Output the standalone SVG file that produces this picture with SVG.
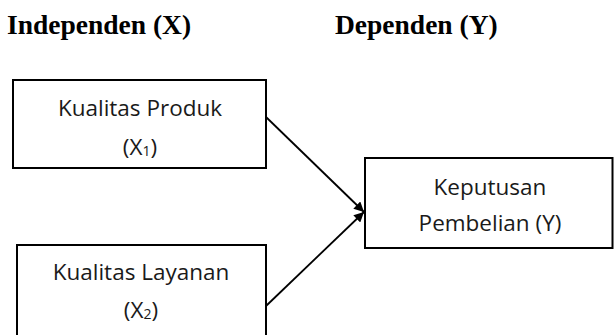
<svg xmlns="http://www.w3.org/2000/svg" width="614" height="335" viewBox="0 0 614 335">
<style>
.hdr{font-family:"Liberation Serif","Times New Roman",serif;font-weight:bold;font-size:27.5px;fill:#000}
.box{fill:#fff;stroke:#000;stroke-width:2}
.lbl{font-family:"Open Sans","Liberation Sans",sans-serif;font-size:22.5px;fill:#1a1a1a;text-anchor:middle}
.sub{font-size:14px}
.edge{stroke:#000;stroke-width:1.8;fill:none;marker-end:url(#arr)}
</style>
<defs>
<marker id="arr" viewBox="0 0 10 10" refX="10" refY="5" markerWidth="10" markerHeight="10" markerUnits="userSpaceOnUse" orient="auto">
<path d="M0,0 L10,5 L0,10 z" fill="#000"/>
</marker>
</defs>
<rect width="614" height="335" fill="#fff"/>
<g id="headers">
<text class="hdr" x="7" y="34">Independen (X)</text>
<text class="hdr" x="335" y="34">Dependen (Y)</text>
</g>
<g id="connectors">
<line class="edge" x1="266" y1="117" x2="364" y2="212"/>
<line class="edge" x1="266" y1="306" x2="364" y2="212"/>
</g>
<g id="x1">
<rect class="box" x="13" y="80" width="253" height="88"/>
<text class="lbl" x="140" y="116">Kualitas Produk</text>
<text class="lbl" x="140" y="155">(X<tspan class="sub" dy="1">1</tspan><tspan dy="-1">)</tspan></text>
</g>
<g id="x2">
<rect class="box" x="17" y="245" width="249" height="100"/>
<text class="lbl" x="141" y="280">Kualitas Layanan</text>
<text class="lbl" x="141" y="318">(X<tspan class="sub" dy="1">2</tspan><tspan dy="-1">)</tspan></text>
</g>
<g id="y">
<rect class="box" x="365" y="158" width="247.5" height="90"/>
<text class="lbl" x="490" y="195">Keputusan</text>
<text class="lbl" x="490" y="231">Pembelian (Y)</text>
</g>
</svg>
